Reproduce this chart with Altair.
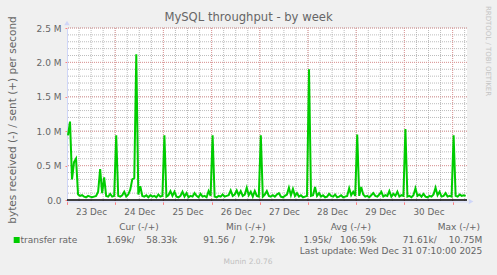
import altair as alt
import pandas as pd
import numpy as np

# ---------------- data ----------------
title_text = "MySQL throughput - by week"
y_title = "bytes received (-) / sent (+) per second"
side_text = "RRDTOOL / TOBI OETIKER"
footer_text = "Munin 2.0.76"
update_text = "Last update: Wed Dec 31 07:10:00 2025"
series_name = "transfer rate"
stat_headers = ["Cur (-/+)", "Min (-/+)", "Avg (-/+)", "Max (-/+)"]
stat_received = ["1.69k/", "91.56 /", "1.95k/", "71.61k/"]
stat_sent = ["58.33k", "2.79k", "106.59k", "10.75M"]

# hourly samples of bytes sent per second, in millions, starting Dec 23 00:30
sent_millions = [
    # Dec 23
    0.94, 1.14, 0.30, 0.55, 0.60, 0.08, 0.06, 0.07, 0.05, 0.04, 0.06, 0.05,
    0.04, 0.05, 0.06, 0.12, 0.45, 0.10, 0.33, 0.06, 0.05, 0.09, 0.05, 0.06,
    # Dec 24
    0.94, 0.06, 0.05, 0.07, 0.12, 0.05, 0.08, 0.15, 0.30, 0.32, 2.12, 0.08,
    0.20, 0.06, 0.05, 0.07, 0.04, 0.07, 0.05, 0.06, 0.04, 0.08, 0.05, 0.06,
    # Dec 25
    0.94, 0.05, 0.07, 0.13, 0.06, 0.12, 0.05, 0.04, 0.06, 0.12, 0.05, 0.10,
    0.04, 0.06, 0.05, 0.10, 0.06, 0.04, 0.09, 0.05, 0.06, 0.04, 0.13, 0.06,
    # Dec 26
    0.94, 0.05, 0.04, 0.06, 0.05, 0.08, 0.05, 0.06, 0.07, 0.14, 0.06, 0.08,
    0.14, 0.07, 0.13, 0.06, 0.08, 0.18, 0.07, 0.12, 0.05, 0.13, 0.06, 0.05,
    # Dec 27
    0.94, 0.05, 0.08, 0.13, 0.06, 0.05, 0.07, 0.05, 0.08, 0.10, 0.05, 0.04,
    0.06, 0.08, 0.18, 0.07, 0.16, 0.06, 0.10, 0.05, 0.07, 0.04, 0.05, 0.06,
    # Dec 28
    1.90, 0.06, 0.07, 0.19, 0.06, 0.10, 0.05, 0.07, 0.04, 0.05, 0.09, 0.06,
    0.05, 0.08, 0.04, 0.05, 0.07, 0.04, 0.05, 0.06, 0.17, 0.07, 0.12, 0.06,
    # Dec 29
    0.95, 0.06, 0.19, 0.08, 0.05, 0.06, 0.04, 0.07, 0.10, 0.06, 0.05, 0.08,
    0.12, 0.05, 0.07, 0.06, 0.13, 0.05, 0.09, 0.06, 0.12, 0.05, 0.07, 0.06,
    # Dec 30
    1.03, 0.05, 0.06, 0.04, 0.07, 0.17, 0.06, 0.08, 0.05, 0.09, 0.05, 0.04,
    0.06, 0.05, 0.08, 0.18, 0.07, 0.12, 0.05, 0.06, 0.10, 0.05, 0.06, 0.05,
    # Dec 31
    0.94, 0.06, 0.05, 0.08, 0.06, 0.07, 0.06,
]

times = pd.date_range("2025-12-23 00:30", periods=len(sent_millions), freq="h")
df = pd.DataFrame({"time": times, "bytes": np.array(sent_millions) * 1e6})

# grid positions
minor_x = pd.DataFrame({"time": pd.date_range("2025-12-23 06:00", "2025-12-31 06:00", freq="6h")})
major_x = pd.DataFrame({"time": pd.date_range("2025-12-24 00:00", "2025-12-31 00:00", freq="D")})
minor_y = pd.DataFrame({"v": np.arange(1, 26) * 1e5})
major_y = pd.DataFrame({"v": np.arange(1, 6) * 5e5})
zero_df = pd.DataFrame({"v": [0.0]})

# ---------------- styles ----------------
FONT = "DejaVu Sans"
FONT_COLOR = "#666666"
AXIS_COLOR = "#CFD6F8"
GREEN = "#00CC00"
MINOR_GRID = "#a0a0a0"
MAJOR_GRID = "#e09a9a"

W, H = 400, 173.4
PAD_L, PAD_T = 67, 28

x_dom = [alt.DateTime(year=2025, month=12, date=23, hours=0, minutes=0),
         alt.DateTime(year=2025, month=12, date=31, hours=7, minutes=10)]
x_scale = alt.Scale(domain=x_dom)
y_scale = alt.Scale(domain=[-2e4, 2.5e6], nice=False, zero=False)

day_ticks = [alt.DateTime(year=2025, month=12, date=d) for d in range(23, 32)]

x_axis = alt.Axis(
    values=day_ticks, labelOffset=24.1, labelFlush=False, labelOverlap=False,
    labelExpr="datum.value >= datetime(2025, 11, 31) ? '' : timeFormat(datum.value, '%d %b')",
    labelFont=FONT, labelFontSize=8.8, labelColor=FONT_COLOR, labelPadding=3,
    tickColor="#ff8080", tickSize=3, domainColor=AXIS_COLOR, grid=False, title=None,
)
y_axis = alt.Axis(
    values=[float(v) for v in np.arange(0, 6) * 5e5],
    labelExpr="datum.value == 0 ? '0.0' : format(datum.value / 1e6, '.1f') + ' M'",
    labelFont=FONT, labelFontSize=9, labelColor=FONT_COLOR, labelPadding=4,
    labelFlush=False, labelOverlap=False,
    tickColor="#ff8080", tickSize=2, domainColor=AXIS_COLOR, grid=False, title=None,
)

X = alt.X("time:T", scale=x_scale, axis=x_axis)

minor_v = alt.Chart(minor_x).mark_rule(color=MINOR_GRID, strokeDash=[1, 1], strokeWidth=1, opacity=0.7).encode(x=X)
minor_h = alt.Chart(minor_y).mark_rule(color=MINOR_GRID, strokeDash=[1, 1], strokeWidth=1, opacity=0.7).encode(
    y=alt.Y("v:Q", scale=y_scale, axis=y_axis))
major_v = alt.Chart(major_x).mark_rule(color=MAJOR_GRID, strokeDash=[1, 1], strokeWidth=1).encode(x=X)
major_h = alt.Chart(major_y).mark_rule(color=MAJOR_GRID, strokeDash=[1, 1], strokeWidth=1).encode(
    y=alt.Y("v:Q", scale=y_scale, axis=y_axis))

line = alt.Chart(df).mark_line(color=GREEN, strokeWidth=2, interpolate="linear").encode(
    x=X,
    y=alt.Y("bytes:Q", scale=y_scale, axis=y_axis),
)
zero = alt.Chart(zero_df).mark_rule(color="black", strokeWidth=1.5).encode(
    y=alt.Y("v:Q", scale=y_scale, axis=y_axis))


def text_layer(s, px, py, size=9, align="left", color=FONT_COLOR, angle=0, baseline="middle"):
    kw = dict(font=FONT, fontSize=size, align=align, color=color, baseline=baseline)
    if angle:
        kw["angle"] = angle
    return alt.Chart(pd.DataFrame({"label": [s]})).mark_text(**kw).encode(
        x=alt.value(px - PAD_L), y=alt.value(py - PAD_T), text="label:N")


texts = [
    text_layer(title_text, 248.5, 18, size=11.6, align="center"),
    text_layer(y_title, 13, 120, size=10.5, align="center", angle=270),
    text_layer(side_text, 488, 51, size=7, align="center", color="#c4c4c4", angle=90),
    text_layer(series_name, 20.5, 239.5, size=9),
    text_layer(update_text, 482.3, 251, size=9, align="right"),
    text_layer(footer_text, 248, 262.3, size=7.5, align="center", color="#c0c0c0"),
]
header_right = [158.7, 265.7, 371, 480]
recv_right = [134.7, 235, 331.7, 436.7]
sent_right = [177.3, 275, 376.7, 482.3]
for i in range(4):
    texts.append(text_layer(stat_headers[i], header_right[i], 227, size=9, align="right"))
    texts.append(text_layer(stat_received[i], recv_right[i], 239.5, size=9, align="right"))
    texts.append(text_layer(stat_sent[i], sent_right[i], 239.5, size=9, align="right"))

swatch = alt.Chart(pd.DataFrame({"label": [series_name]})).mark_square(
    color=GREEN, size=36, opacity=1).encode(
    x=alt.value(16.7 - PAD_L), y=alt.value(240 - PAD_T))

arrows = [
    alt.Chart(pd.DataFrame({"a": [1]})).mark_point(
        shape="triangle-up", filled=True, color=AXIS_COLOR, size=30, opacity=1).encode(
        x=alt.value(0), y=alt.value(-5)),
    alt.Chart(pd.DataFrame({"a": [1]})).mark_point(
        shape="triangle-right", filled=True, color=AXIS_COLOR, size=30, opacity=1).encode(
        x=alt.value(W + 4), y=alt.value(H)),
]

chart = alt.layer(
    minor_v, minor_h, major_v, major_h, line, zero, swatch, *arrows, *texts
).properties(
    width=W, height=H,
    autosize=alt.AutoSizeParams(type="none"),
    padding={"left": PAD_L, "top": PAD_T, "right": 497 - PAD_L - W, "bottom": 275 - PAD_T - H},
    background="#f0f0f0",
).configure_view(fill="white", strokeWidth=0)

chart.save("out.html", embed_options={"renderer": "svg", "actions": False})
